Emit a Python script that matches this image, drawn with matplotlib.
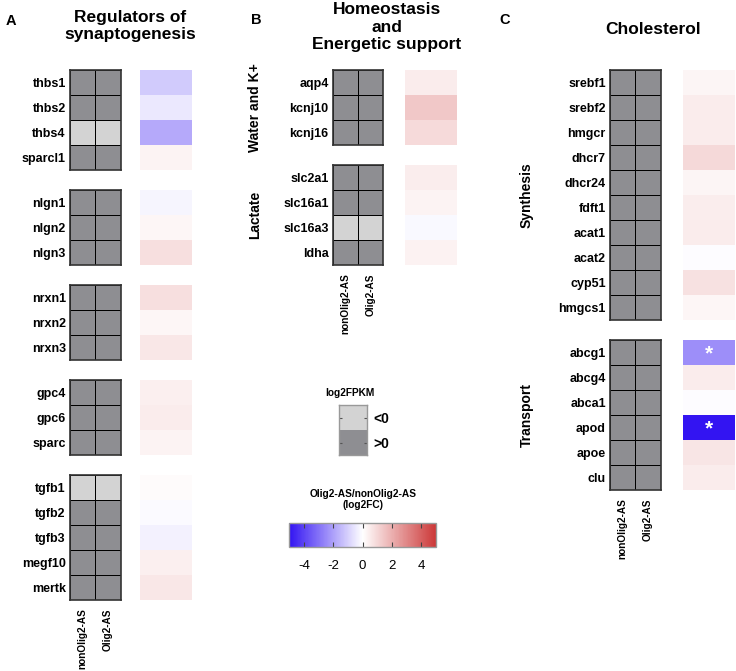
import matplotlib
matplotlib.use('Agg')
import matplotlib.pyplot as plt
import numpy as np
from matplotlib.colors import LinearSegmentedColormap, ListedColormap, Normalize
from matplotlib.cm import ScalarMappable

plt.rcParams['font.family'] = ['Liberation Sans', 'DejaVu Sans']

# ---------------- data ----------------
samples = ['nonOlig2-AS', 'Olig2-AS']

A_genes = [['thbs1', 'thbs2', 'thbs4', 'sparcl1'],
           ['nlgn1', 'nlgn2', 'nlgn3'],
           ['nrxn1', 'nrxn2', 'nrxn3'],
           ['gpc4', 'gpc6', 'sparc'],
           ['tgfb1', 'tgfb2', 'tgfb3', 'megf10', 'mertk']]
A_fc = [[-1.1, -0.5, -1.8, 0.3],
        [-0.2, 0.2, 0.8],
        [0.8, 0.2, 0.6],
        [0.4, 0.5, 0.3],
        [0.1, -0.1, -0.3, 0.4, 0.6]]

B_groups = ['Water and K+', 'Lactate']
B_genes = [['aqp4', 'kcnj10', 'kcnj16'],
           ['slc2a1', 'slc16a1', 'slc16a3', 'ldha']]
B_fc = [[0.5, 1.4, 0.9],
        [0.45, 0.3, -0.15, 0.35]]

C_groups = ['Synthesis', 'Transport']
C_genes = [['srebf1', 'srebf2', 'hmgcr', 'dhcr7', 'dhcr24', 'fdft1', 'acat1', 'acat2', 'cyp51', 'hmgcs1'],
           ['abcg1', 'abcg4', 'abca1', 'apod', 'apoe', 'clu']]
C_fc = [[0.25, 0.5, 0.5, 0.95, 0.25, 0.45, 0.5, -0.05, 0.75, 0.2],
        [-2.4, 0.5, -0.05, -5.0, 0.65, 0.5]]
C_signif = ['abcg1', 'apod']

# genes with log2FPKM < 0 in both samples
low_fpkm = ['thbs4', 'tgfb1', 'slc16a3']

fpkm_labels = ['<0', '>0']
cbar_ticks = [-4, -2, 0, 2, 4]

# ---------------- style ----------------
W, H = 736, 671
fig = plt.figure(figsize=(W / 100, H / 100), dpi=100)

DARK = '#8e8e92'
LIGHT = '#d3d3d3'
gray_cmap = ListedColormap([DARK, LIGHT])
fc_cmap = LinearSegmentedColormap.from_list(
    'bwr2', [(0.20, 0.08, 0.95), (1, 1, 1), (0.80, 0.22, 0.22)])
norm = Normalize(-5, 5)

ROW = 25
GAP = 20
TOP = 70


def ax_px(x0, y0, x1, y1):
    return fig.add_axes([x0 / W, 1 - y1 / H, (x1 - x0) / W, (y1 - y0) / H])


def draw_panel(genes_groups, fc_groups, gx, cx, group_labels=None, glx=None, signif=()):
    y = TOP
    n_groups = len(genes_groups)
    for gi, (genes, fcs) in enumerate(zip(genes_groups, fc_groups)):
        n = len(genes)
        y1 = y + n * ROW
        # gray FPKM heatmap
        ax = ax_px(gx[0], y, gx[1], y1)
        vals = np.array([[1 if g in low_fpkm else 0] * len(samples) for g in genes])
        ax.pcolormesh(np.arange(len(samples) + 1), np.arange(n + 1), vals,
                      cmap=gray_cmap, vmin=0, vmax=1, edgecolors='black', linewidth=0.7)
        ax.set_xlim(0, len(samples))
        ax.set_ylim(n, 0)
        for s in ax.spines.values():
            s.set_color('#333333')
            s.set_linewidth(1.2)
        ax.set_yticks(np.arange(n) + 0.5)
        ax.set_yticklabels(genes, fontsize=9, fontweight='bold')
        ax.tick_params(axis='y', length=0, pad=3)
        if gi == n_groups - 1:
            ax.set_xticks(np.arange(len(samples)) + 0.5)
            ax.set_xticklabels(samples, rotation=90, fontsize=7.2, fontweight='bold')
            ax.tick_params(axis='x', length=0, pad=6)
        else:
            ax.set_xticks([])
        # log2FC column
        cax = ax_px(cx[0], y, cx[1], y1)
        cax.pcolormesh(np.array([[v] for v in fcs]), cmap=fc_cmap, norm=norm)
        cax.set_xlim(0, 1)
        cax.set_ylim(n, 0)
        cax.axis('off')
        for ri, g in enumerate(genes):
            if g in signif:
                cax.text(0.5, ri + 0.55, '*', color='white', ha='center', va='center',
                         fontsize=15, fontweight='bold')
        if group_labels is not None:
            fig.text(glx / W, 1 - ((y + y1) / 2) / H, group_labels[gi], rotation=90,
                     ha='center', va='center', fontsize=10, fontweight='bold')
        y = y1 + GAP


# Panel A
draw_panel(A_genes, A_fc, (70, 120.7), (140, 192))
# Panel B
draw_panel(B_genes, B_fc, (332.7, 383.3), (405, 456.7), B_groups, 255)
# Panel C
draw_panel(C_genes, C_fc, (610, 660.7), (682.7, 735), C_groups, 527, signif=C_signif)

# titles
fig.text(6 / W, 1 - 21 / H, 'A', fontsize=10.5, fontweight='bold', va='center', ha='left')
fig.text(130 / W, 1 - 26 / H, 'Regulators of\nsynaptogenesis', fontsize=12.5,
         fontweight='bold', ha='center', va='center', linespacing=1.15)
fig.text(251 / W, 1 - 20 / H, 'B', fontsize=10.5, fontweight='bold', va='center', ha='left')
fig.text(386.7 / W, 1 - 27 / H, 'Homeostasis\nand\nEnergetic support', fontsize=12.5,
         fontweight='bold', ha='center', va='center', linespacing=1.2)
fig.text(499 / W, 1 - 20 / H, 'C', fontsize=10.5, fontweight='bold', va='center', ha='left')
fig.text(653 / W, 1 - 30 / H, 'Cholesterol', fontsize=12.5, fontweight='bold',
         ha='center', va='center')

# log2FPKM legend
lax = ax_px(339.3, 405.3, 366.7, 455.3)
lax.pcolormesh(np.array([[1], [0]]), cmap=gray_cmap, vmin=0, vmax=1)
lax.set_ylim(2, 0)
lax.set_xlim(0, 1)
lax.set_xticks([])
lax.set_yticks([0.5, 1.5])
lax.yaxis.tick_right()
lax.set_yticklabels(fpkm_labels, fontsize=10, fontweight='bold')
lax.tick_params(axis='y', direction='in', left=True, right=True, length=2.5,
                color='#555555', pad=5)
for s in lax.spines.values():
    s.set_color('#999999')
    s.set_linewidth(1.0)
fig.text(350 / W, 1 - 393 / H, 'log2FPKM', fontsize=7.3, fontweight='bold',
         ha='center', va='center')

# colorbar
cbax = ax_px(289.3, 522.7, 436, 547.3)
cb = fig.colorbar(ScalarMappable(norm=norm, cmap=fc_cmap), cax=cbax,
                  orientation='horizontal', ticks=cbar_ticks)
cb.set_ticklabels([str(t) if t >= 0 else '-' + str(-t) for t in cbar_ticks])
cbax.tick_params(axis='x', direction='in', top=True, bottom=True, length=3.5,
                 color='#444444', labelsize=9.5, pad=9)
cb.outline.set_edgecolor('#999999')
cb.outline.set_linewidth(1.0)
fig.text(362.7 / W, 1 - 499.5 / H, 'Olig2-AS/nonOlig2-AS\n(log2FC)', fontsize=7.3,
         fontweight='bold', ha='center', va='center', linespacing=1.15)

fig.savefig('out.png', dpi=100)
